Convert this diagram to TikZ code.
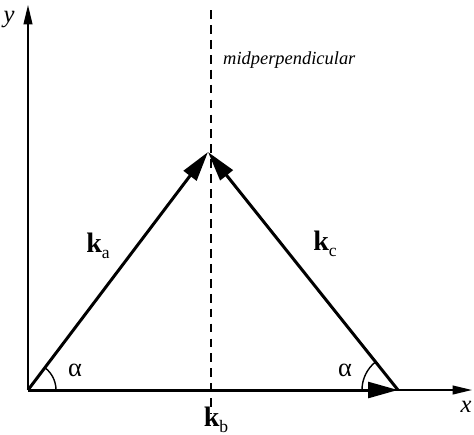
\documentclass[tikz,border=0pt]{standalone}
\usepackage{fontspec}
\setmainfont{Liberation Serif}
\usetikzlibrary{arrows.meta,calc}
\newcommand{\ksub}[1]{\raisebox{-3.5pt}{\fontsize{10}{10}\selectfont\mdseries #1}}
\begin{document}
\begin{tikzpicture}[x=0.02cm,y=-0.02cm,
  axis/.style={line width=0.9pt,-{Triangle[length=11pt,width=5pt]}},
  vec/.style={line width=1.7pt,-{Triangle[length=17pt,width=9pt]}},
  klabel/.style={font=\fontsize{16}{16}\selectfont\bfseries},
  alab/.style={font=\fontsize{15}{15}\selectfont},
  axlab/.style={font=\fontsize{14}{14}\selectfont\itshape}]
\useasboundingbox (0,0) rectangle (474,434);
\coordinate (O) at (28,390);
\coordinate (yend) at (28,5);
\coordinate (xend) at (472,390);
\coordinate (A) at (28,390);
\coordinate (B) at (208,152);
\coordinate (C) at (398,390);
\coordinate (mtop) at (211,10);
\coordinate (mbot) at (211,414);
% axes
\draw[axis] (O) -- (yend);
\draw[axis] (O) -- (xend);
\node[axlab] (ylab) at (9,20) {y};
\node[axlab] (xlab) at (466,407) {x};
% midperpendicular
\draw[line width=0.6pt,dash pattern=on 5pt off 3.5pt] (mtop) -- (mbot);
\node[font=\fontsize{10.5}{10.5}\selectfont\itshape,anchor=west] (mp) at (217,60) {midperpendicular};
% vectors
\draw[vec] (A) -- (B);
\draw[vec] (C) -- (B);
\draw[vec] (A) -- (C);
% angle arcs
\draw[line width=0.8pt] ($(A)+(28,0)$) arc[start angle=0,end angle=-53,radius=28];
\draw[line width=0.8pt] ($(C)+(-36,0)$) arc[start angle=180,end angle=231.4,radius=36];
\node[alab] (al1) at (75,370) {α};
\node[alab] (al2) at (345,370) {α};
% labels
\node[klabel] (ka) at (98,246) {k\ksub{a}};
\node[klabel] (kc) at (325,244) {k\ksub{c}};
\node[klabel] (kb) at (216,420) {k\ksub{b}};
\end{tikzpicture}
\end{document}
